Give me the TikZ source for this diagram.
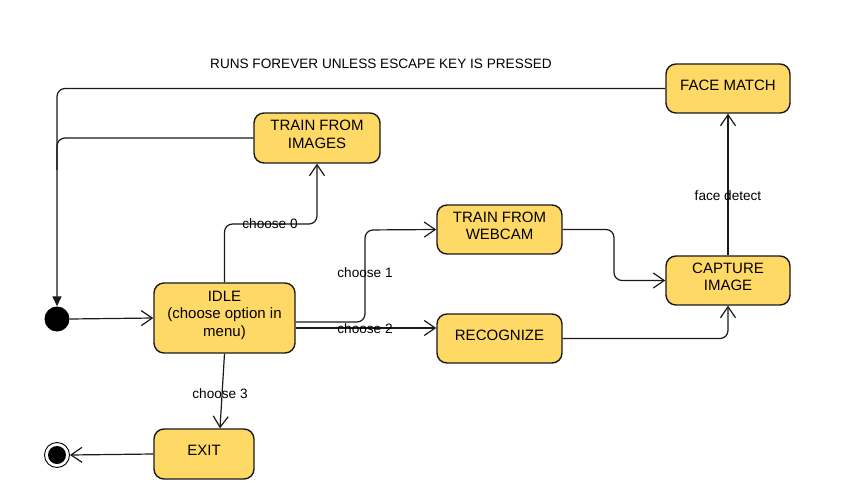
\documentclass[tikz,border=0pt]{standalone}
\usepackage{fontspec}
\setmainfont{Liberation Sans}
\usetikzlibrary{arrows.meta}
\definecolor{stfill}{HTML}{FFD966}
\definecolor{stline}{HTML}{1A1A1A}
\begin{document}
\begin{tikzpicture}[x=1pt,y=-1pt,
  state/.style={draw=stline,line width=1.4pt,fill=stfill,rounded corners=10pt,align=center,
    font=\fontsize{15}{17.5}\selectfont,inner sep=0pt,text depth=7pt},
  conn/.style={draw=stline,line width=1.2pt,rounded corners=8pt},
  openarr/.style={-{Straight Barb[length=11pt,width=15pt,line width=1.2pt]}},
  lbl/.style={font=\fontsize{13.6}{16}\selectfont,inner sep=1pt}]
\useasboundingbox (0,0) rectangle (849,493);
\fill[white] (0,0) rectangle (849,493);

\node[lbl] (title) at (381,64) {RUNS FOREVER UNLESS ESCAPE KEY IS PRESSED};

\node[state,minimum width=126pt,minimum height=50pt] (tfi) at (317,138) {TRAIN FROM\\IMAGES};
\node[state,minimum width=124pt,minimum height=49pt] (fm) at (728,88.5) {FACE MATCH};
\node[state,minimum width=125pt,minimum height=49pt] (tfw) at (499.5,229.5) {TRAIN FROM\\WEBCAM};
\node[state,minimum width=124pt,minimum height=49pt] (cap) at (728,280.5) {CAPTURE\\IMAGE};
\node[state,minimum width=125pt,minimum height=49pt] (rec) at (499.5,338.5) {RECOGNIZE};
\node[state,minimum width=141pt,minimum height=70pt,text depth=9pt] (idle) at (224.5,318) {IDLE\\(choose option in\\menu)};
\node[state,minimum width=100pt,minimum height=50pt] (exit) at (204,454) {EXIT};

\node[circle,fill=black,minimum size=25pt,inner sep=0pt] (init) at (57,319) {};
\node[circle,draw=black,line width=0.9pt,fill=white,minimum size=25pt,inner sep=0pt] (fin) at (57,455) {};
\node[circle,fill=black,minimum size=18pt,inner sep=0pt] (finin) at (fin) {};

\coordinate (c1) at (57,88.5);
\coordinate (c2) at (57,138);
\draw[conn,-{Triangle[length=10pt,width=9pt]}] (fm.west) -- (c1) -- (init.north);
\draw[conn] (tfi.west) -- (c2) -- (57,170);

\draw[conn,openarr] (init.east) -- (idle.west);
\draw[conn,openarr] (idle.north) |- (270,224) -| (tfi.south);
\node[lbl] (l0) at (270,224) {choose 0};

\coordinate (i1) at ([yshift=-4pt]idle.east);
\coordinate (i2) at ([yshift=-10pt]idle.east);
\draw[conn,openarr] (i1) -- (365,322) -- (365,230) -- (tfw.west);
\node[lbl] (l1) at (365,273) {choose 1};
\draw[conn,openarr] (i2) -- (rec.west |- i2);
\node[lbl] (l2) at (365,328.5) {choose 2};

\draw[conn,openarr] (idle.south) -- ([xshift=16pt]exit.north);
\node[lbl] (l3) at (220,394) {choose 3};

\draw[conn,openarr] (exit.west) -- (fin.east);

\draw[conn,openarr] (tfw.east) -- (614,229.5) -- (614,280.5) -- (cap.west);
\draw[conn,openarr] (rec.east) -| (cap.south);
\draw[conn,openarr] (cap.north) -- (fm.south);
\node[lbl] (lf) at (728,196) {face detect};
\end{tikzpicture}
\end{document}
